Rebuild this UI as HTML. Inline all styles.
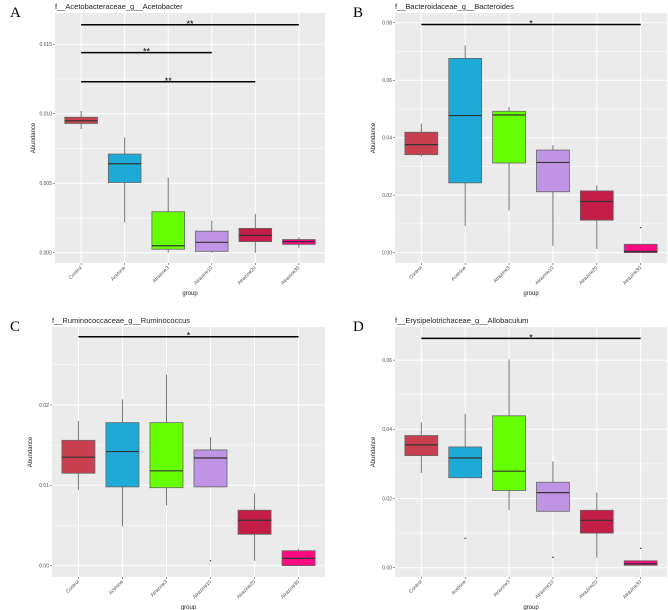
<!DOCTYPE html>
<html><head><meta charset="utf-8"><style>
body{margin:0;background:#fff;width:668px;height:610px;overflow:hidden}
svg{display:block;font-family:"Liberation Sans",sans-serif}
</style></head><body>
<svg id="fig" width="668" height="610" viewBox="0 0 668 610"></svg>
<script>
const categories=["Control","Acetone","Atrazine3","Atrazine10","Atrazine20","Atrazine30"];
const colors=["#c8404f","#1eaad6","#66ff00","#bf94e4","#c41e48","#ff0a80"];
// [lowWhisker, q1, median, q3, highWhisker] in units of 1e-3
const boxesA=[[8.9,9.3,9.5,9.75,10.2],[2.2,5.05,6.4,7.1,8.3],[0,0.25,0.5,2.95,5.4],[0,0.1,0.75,1.55,2.3],[0,0.8,1.25,1.75,2.8],[0.35,0.6,0.8,0.95,1.1]];
const boxesB=[[33.4,34.1,37.6,41.9,44.9],[9.3,24.3,47.7,67.6,72.1],[14.7,31.2,47.9,49.2,50.7],[2.4,21.2,31.4,35.7,37.4],[1.3,11.3,17.8,21.5,23.5],[0,0,0.4,2.9,2.9]];
const boxesC=[[9.4,11.5,13.5,15.6,18.0],[4.9,9.8,14.2,17.8,20.7],[7.5,9.7,11.8,17.8,23.8],[9.8,9.8,13.4,14.4,16.0],[0.6,3.9,5.65,6.9,9.0],[0,0,0.9,1.85,2.1]];
const boxesD=[[27.4,32.4,35.5,38.2,42.0],[26.0,26.0,31.7,34.9,44.5],[16.6,22.3,27.9,43.9,60.2],[16.3,16.3,21.7,24.7,30.7],[2.9,10.0,13.7,16.6,21.7],[0.7,0.7,1.1,2.0,2.0]];
const outliersA=[],outliersB=[[5,8.7]],outliersC=[[3,0.6]],outliersD=[[1,8.5],[3,3.0],[5,5.6]];
const sigA=[[0,5,16.4,"**"],[0,3,14.4,"**"],[0,4,12.3,"**"]];
const sigB=[[0,5,79.4,"*"]],sigC=[[0,5,28.5,"*"]],sigD=[[0,5,66.3,"*"]];
const ticksA=[0,5,10,15],tickLabA=["0.000","0.005","0.010","0.015"];
const ticksB=[0,20,40,60,80],tickLabB=["0.00","0.02","0.04","0.06","0.08"];
const ticksC=[0,10,20],tickLabC=["0.00","0.01","0.02"];
const ticksD=[0,20,40,60],tickLabD=["0.00","0.02","0.04","0.06"];

const NS="http://www.w3.org/2000/svg";
const svg=document.getElementById('fig');
function mk(tag,attrs,parent,text){const e=document.createElementNS(NS,tag);for(const k in attrs)e.setAttribute(k,attrs[k]);if(text!==undefined)e.textContent=text;(parent||svg).appendChild(e);return e;}

function panel(o){
  const g=mk('g',{});
  
  
  const L=o.x0,R=o.x1,T=o.y0,B=o.y1,W=R-L;
  const ys=v=>B-(v-o.dmin)/(o.dmax-o.dmin)*(B-T);
  const xs=i=>L+(i+0.6)*W/6.2;
  const bw=0.75*W/6.2;
  const bg=mk('rect',{x:L,y:T,width:W,height:B-T,fill:'#ebebeb'},g);
  
  const step=o.ticks[1]-o.ticks[0];
  for(let v=o.ticks[0]-step/2;v<o.dmax;v+=step){if(v<o.dmin)continue;mk('line',{x1:L,x2:R,y1:ys(v),y2:ys(v),stroke:'#fff','stroke-width':0.5},g);}
  o.ticks.forEach((v,i)=>{
    mk('line',{x1:L,x2:R,y1:ys(v),y2:ys(v),stroke:'#fff','stroke-width':1},g);
    mk('line',{x1:L-2,x2:L,y1:ys(v),y2:ys(v),stroke:'#333','stroke-width':0.5},g);
    const t=mk('text',{x:L-3,y:ys(v)+1.8,'font-size':5,'text-anchor':'end',fill:'#4d4d4d'},g,o.tickLab[i]);
    
  });
  categories.forEach((c,i)=>{
    mk('line',{x1:xs(i),x2:xs(i),y1:T,y2:B,stroke:'#fff','stroke-width':1},g);
    mk('line',{x1:xs(i),x2:xs(i),y1:B,y2:B+2,stroke:'#333','stroke-width':0.5},g);
    const t=mk('text',{x:xs(i)+1,y:B+5,'font-size':5,'text-anchor':'end',fill:'#4d4d4d',transform:`rotate(-45 ${xs(i)+1} ${B+5})`},g,c);
    
  });
  o.boxes.forEach((b,i)=>{
    const s=v=>ys(v/1000);
    const bx=mk('g',{},g);
    
    
    mk('line',{x1:xs(i),x2:xs(i),y1:s(b[0]),y2:s(b[4]),stroke:'#777','stroke-width':1},bx);
    mk('rect',{x:xs(i)-bw/2,y:s(b[3]),width:bw,height:Math.max(0.5,s(b[1])-s(b[3])),fill:colors[i],stroke:'#666','stroke-width':0.8},bx);
    mk('line',{x1:xs(i)-bw/2,x2:xs(i)+bw/2,y1:s(b[2]),y2:s(b[2]),stroke:'#333','stroke-width':1.2},bx);
  });
  o.outliers.forEach(p=>{
    const d=mk('circle',{cx:xs(p[0]),cy:ys(p[1]/1000),r:0.7,fill:'#222'},g);
    
  });
  o.sig.forEach(s=>{
    const y=ys(s[2]/1000);
    const l=mk('line',{x1:xs(s[0]),x2:xs(s[1]),y1:y,y2:y,stroke:'#000','stroke-width':1.5},g);
    
    const t=mk('text',{x:(xs(s[0])+xs(s[1]))/2,y:y+2,'font-size':9,'text-anchor':'middle',fill:'#000'},g,s[3]);
    
  });
  const tt=mk('text',{x:L,y:T-4,'font-size':7.5,fill:'#222'},g,o.title);
  
  const lt=mk('text',{x:o.lx,y:T+4,'font-size':15,'font-family':'Liberation Serif,serif',fill:'#000'},g,o.letter);
  
  const xt=mk('text',{x:(L+R)/2,y:B+32,'font-size':6,'text-anchor':'middle',fill:'#222'},g,'group');
  
  const yx=L-20,yy=(T+B)/2;
  const yt=mk('text',{x:yx,y:yy,'font-size':6,'text-anchor':'middle',fill:'#222',transform:`rotate(-90 ${yx} ${yy})`},g,'Abundance');
  
}
panel({letter:'A',title:'f__Acetobacteraceae_g__Acetobacter',x0:55,x1:325,y0:13,y1:263,dmin:-0.00074,dmax:0.01725,ticks:ticksA.map(v=>v/1000),tickLab:tickLabA,boxes:boxesA,outliers:outliersA,sig:sigA,lx:10});
panel({letter:'B',title:'f__Bacteroidaceae_g__Bacteroides',x0:395,x1:667,y0:13,y1:263,dmin:-0.0036,dmax:0.0834,ticks:ticksB.map(v=>v/1000),tickLab:tickLabB,boxes:boxesB,outliers:outliersB,sig:sigB,lx:353});
panel({letter:'C',title:'f__Ruminococcaceae_g__Ruminococcus',x0:52,x1:325,y0:327,y1:577,dmin:-0.00142,dmax:0.02971,ticks:ticksC.map(v=>v/1000),tickLab:tickLabC,boxes:boxesC,outliers:outliersC,sig:sigC,lx:10});
panel({letter:'D',title:'f__Erysipelotrichaceae_g__Allobaculum',x0:395,x1:667,y0:327,y1:577,dmin:-0.00269,dmax:0.06957,ticks:ticksD.map(v=>v/1000),tickLab:tickLabD,boxes:boxesD,outliers:outliersD,sig:sigD,lx:353});
</script>
</body></html>
